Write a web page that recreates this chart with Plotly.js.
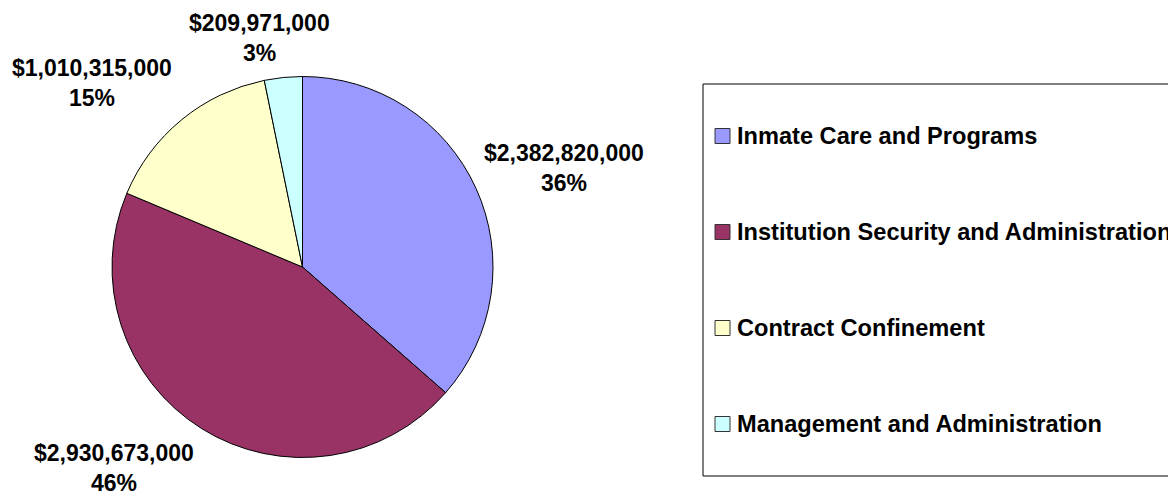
<!DOCTYPE html>
<html>
<head>
<meta charset="utf-8">
<script src="https://cdn.plot.ly/plotly-3.0.1.min.js"></script>
<style>html,body{margin:0;padding:0;background:#fff;}#chart{width:1168px;height:493px;}</style>
</head>
<body>
<div id="chart"></div>
<script>
const categories = ["Inmate Care and Programs", "Institution Security and Administration", "Contract Confinement", "Management and Administration"];
const values = [2382820000, 2930673000, 1010315000, 209971000];
const percentLabels = ["36%", "46%", "15%", "3%"];
const colors = ["#9999FF", "#993366", "#FFFFCC", "#CCFFFF"];
// label anchor positions in pixels (value line center) for each slice
const labelPos = [[564, 153], [114, 453], [92, 68], [259, 23]];

const W = 1168, H = 493;
const px = x => x / W;
const py = y => 1 - y / H;
const fmt = v => "$" + v.toLocaleString("en-US");
const FONT = "Liberation Sans, Arial, sans-serif";
const FS = 23;
const LFS = 23.6;

const annotations = [];
const shapes = [];
values.forEach((v, i) => {
  const [x, y] = labelPos[i];
  annotations.push({xref: "paper", yref: "paper", x: px(x), y: py(y), text: "<b>" + fmt(v) + "</b>",
    showarrow: false, xanchor: "center", yanchor: "middle", font: {family: FONT, size: FS, color: "#000"}});
  annotations.push({xref: "paper", yref: "paper", x: px(x), y: py(y + 30), text: "<b>" + percentLabels[i] + "</b>",
    showarrow: false, xanchor: "center", yanchor: "middle", font: {family: FONT, size: FS, color: "#000"}});
});

// legend box
const box = {x0: 703, y0: 84, x1: 1200, y1: 476};
shapes.push({type: "rect", xref: "paper", yref: "paper", x0: px(box.x0), x1: px(box.x1), y0: py(box.y0), y1: py(box.y1),
  line: {color: "#000", width: 1}, fillcolor: "rgba(0,0,0,0)"});
const legendY = [136, 232, 328, 424];
categories.forEach((c, i) => {
  const y = legendY[i];
  shapes.push({type: "rect", xref: "paper", yref: "paper", x0: px(715), x1: px(730), y0: py(y - 7.5), y1: py(y + 7.5),
    line: {color: "#333", width: 1}, fillcolor: colors[i]});
  annotations.push({xref: "paper", yref: "paper", x: px(735), y: py(y), text: "<b>" + c + "</b>", showarrow: false,
    xanchor: "left", yanchor: "middle", font: {family: FONT, size: LFS, color: "#000"}});
});

const data = [{
  type: "pie",
  labels: categories,
  values: values,
  sort: false,
  direction: "clockwise",
  rotation: 0,
  textinfo: "none",
  hoverinfo: "label+value+percent",
  marker: {colors: colors, line: {color: "#000", width: 1}},
  domain: {x: [112 / W, 493 / W], y: [35.5 / H, 416.5 / H]},
  showlegend: false
}];

const layout = {
  width: W, height: H,
  margin: {l: 0, r: 0, t: 0, b: 0},
  paper_bgcolor: "#fff",
  showlegend: false,
  annotations: annotations,
  shapes: shapes
};
Plotly.newPlot("chart", data, layout, {displayModeBar: false, staticPlot: true});
</script>
</body>
</html>
